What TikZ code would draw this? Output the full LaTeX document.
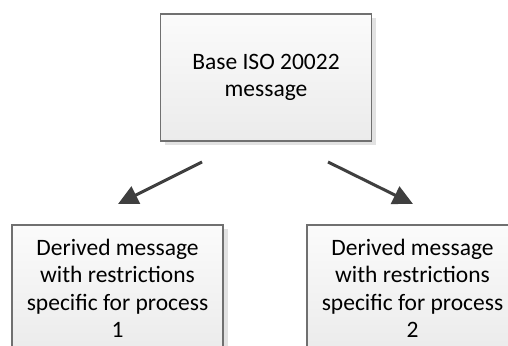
\documentclass[tikz,border=0pt]{standalone}
\usepackage{fontspec}
\setmainfont{Carlito}
\usetikzlibrary{arrows.meta,shadows}
\definecolor{boxline}{HTML}{707070}
\definecolor{boxtop}{HTML}{FBFBFB}
\definecolor{boxbot}{HTML}{EBEBEB}
\definecolor{shadowc}{HTML}{E2E2E2}
\definecolor{arrowc}{HTML}{3F3F3F}
\tikzset{
  msgbox/.style={draw=boxline, line width=1.2pt, top color=boxtop, bottom color=boxbot,
    minimum width=211pt, minimum height=127pt, inner sep=0pt, align=center,
    font=\fontsize{23.5pt}{27.5pt}\selectfont,
    drop shadow={shadow xshift=4.5pt, shadow yshift=-4.5pt, fill=shadowc, opacity=1}},
  conn/.style={draw=arrowc, line width=3pt, -{Triangle[length=20pt,width=19pt]}}
}
\begin{document}
\begin{tikzpicture}[x=1pt,y=1pt]
\clip (0,0) rectangle (508,345);
\fill[white] (0,0) rectangle (508,345);
\node[msgbox] (base) at (266,267.5) {Base ISO 20022\\message};
\node[msgbox] (d1) at (117.5,56.5) {Derived message\\with restrictions\\specific for process\\1};
\node[msgbox] (d2) at (412.5,56.5) {Derived message\\with restrictions\\specific for process\\2};
\coordinate (a1s) at (202,183);
\coordinate (a1e) at (118,141);
\coordinate (a2s) at (328,183);
\coordinate (a2e) at (413,141);
\draw[conn] (a1s) -- (a1e);
\draw[conn] (a2s) -- (a2e);
\end{tikzpicture}
\end{document}
